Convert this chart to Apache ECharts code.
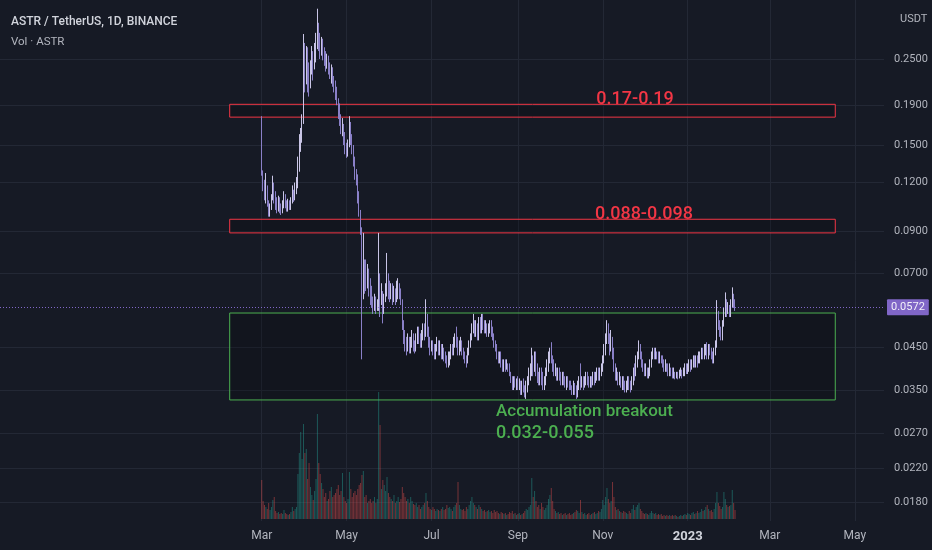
<!DOCTYPE html>
<html>
<head>
  <meta charset="utf-8">
  <title>ASTR / TetherUS, 1D, BINANCE</title>
  <script src="https://cdn.jsdelivr.net/npm/echarts@6.0.0/dist/echarts.min.js"></script>
  <style>
    html, body { margin: 0; padding: 0; background: #161a25; }
    #main { width: 932px; height: 550px; }
  </style>
</head>
<body>
<div id="main"></div>
<script type="text/javascript">
// 日线数据从 2022-03-01 开始，每天一根
const firstDay = Date.UTC(2022, 2, 1);
const firstOpen = 0.172;

const closes = [
  .128,.120,.112,.117,.106,.101,.104,.110,.116,.112,
  .106,.103,.108,.104,.101,.105,.109,.106,.103,.106,
  .104,.108,.112,.109,.114,.118,.130,.148,.160,.172,
  .248,.225,.262,.232,.215,.238,.255,.240,.262,.280,
  .300,.282,.270,.278,.262,.255,.245,.250,.238,.232,
  .236,.222,.214,.204,.196,.188,.176,.165,.170,.158,
  .148,.144,.150,.168,.158,.146,.138,.128,.122,.112,
  .101,.091,.064,.072,.070,.066,.071,.067,.062,.060,
  .058,.060,.057,.058,.068,.060,.062,.056,.060,.062,
  .066,.064,.062,.064,.061,.063,.060,.062,.065,.062,
  .059,.052,.048,.046,.045,.047,.044,.046,.048,.046,
  .045,.047,.049,.048,.046,.048,.050,.049,.054,.050,
  .046,.045,.046,.044,.043,.045,.046,.044,.045,.043,
  .044,.043,.042,.041,.042,.043,.045,.044,.046,.048,
  .047,.044,.045,.046,.044,.043,.042,.041,.044,.046,
  .048,.050,.052,.049,.051,.048,.053,.050,.054,.052,
  .050,.051,.049,.050,.052,.050,.048,.046,.045,.043,
  .042,.043,.041,.040,.041,.040,.041,.040,.039,.037,
  .036,.037,.036,.037,.036,.0365,.035,.036,.0355,.0345,
  .036,.037,.038,.039,.041,.040,.042,.040,.038,.037,
  .039,.038,.036,.037,.039,.040,.042,.044,.042,.041,
  .039,.040,.038,.039,.038,.037,.038,.037,.036,.037,
  .0365,.036,.0355,.035,.036,.035,.034,.036,.037,.036,
  .037,.036,.037,.038,.037,.036,.037,.0365,.038,.037,
  .038,.039,.038,.039,.040,.042,.044,.047,.050,.048,
  .045,.047,.044,.040,.038,.039,.037,.038,.036,.037,
  .036,.035,.036,.037,.036,.035,.037,.039,.038,.041,
  .043,.045,.043,.041,.040,.039,.040,.038,.039,.041,
  .043,.044,.043,.044,.043,.042,.043,.042,.041,.040,
  .041,.040,.039,.040,.039,.038,.039,.038,.0385,.038,
  .0385,.039,.0385,.039,.040,.039,.040,.041,.040,.041,
  .042,.041,.042,.041,.042,.043,.044,.043,.044,.045,
  .043,.045,.044,.043,.042,.044,.046,.055,.052,.050,
  .048,.052,.055,.059,.056,.058,.055,.059,.061,.058,
  .0572
];

const highs = [
  .178,.129,.122,.127,.118,.108,.106,.112,.125,.120,
  .114,.110,.111,.110,.106,.108,.114,.112,.108,.109,
  .108,.110,.118,.115,.120,.124,.140,.160,.166,.180,
  .290,.275,.270,.268,.245,.248,.270,.262,.275,.292,
  .337,.310,.292,.285,.282,.268,.262,.258,.255,.245,
  .242,.238,.226,.220,.212,.198,.192,.180,.176,.170,
  .162,.152,.155,.178,.172,.160,.150,.140,.130,.126,
  .114,.102,.092,.089,.076,.076,.074,.072,.068,.065,
  .061,.062,.061,.060,.089,.070,.066,.063,.062,.066,
  .079,.070,.067,.066,.066,.065,.064,.067,.068,.066,
  .064,.060,.053,.050,.048,.049,.048,.048,.050,.049,
  .047,.049,.051,.051,.049,.050,.052,.052,.060,.055,
  .051,.048,.047,.047,.046,.046,.048,.047,.047,.046,
  .046,.045,.044,.043,.044,.044,.046,.046,.048,.049,
  .051,.048,.047,.048,.047,.045,.044,.043,.045,.047,
  .049,.052,.055,.053,.053,.052,.054,.054,.055,.055,
  .053,.053,.052,.052,.053,.053,.051,.049,.047,.046,
  .044,.044,.044,.042,.042,.042,.042,.041,.041,.039,
  .038,.038,.038,.0375,.038,.0375,.037,.037,.0375,.036,
  .037,.038,.040,.041,.045,.043,.044,.044,.041,.039,
  .040,.040,.039,.038,.040,.042,.044,.045,.0465,.043,
  .042,.041,.040,.040,.040,.039,.039,.039,.038,.038,
  .038,.037,.037,.036,.037,.0365,.036,.037,.038,.041,
  .038,.038,.038,.039,.039,.038,.038,.038,.039,.039,
  .039,.040,.040,.040,.041,.043,.046,.049,.053,.052,
  .049,.050,.048,.045,.041,.040,.039,.039,.038,.038,
  .038,.037,.037,.038,.038,.037,.038,.040,.041,.043,
  .044,.047,.046,.044,.042,.041,.041,.040,.040,.042,
  .044,.045,.045,.045,.044,.044,.044,.043,.043,.042,
  .042,.041,.041,.041,.040,.040,.040,.039,.039,.039,
  .0395,.040,.0395,.040,.041,.041,.041,.042,.042,.042,
  .043,.043,.043,.043,.044,.044,.045,.045,.046,.046,
  .0465,.046,.046,.045,.044,.045,.047,.0597,.056,.053,
  .051,.053,.057,.0625,.060,.059,.058,.060,.0644,.062,
  .060
];

const lows = [
  .125,.114,.108,.106,.104,.098,.098,.102,.108,.106,
  .102,.100,.101,.100,.099,.100,.103,.103,.101,.101,
  .102,.102,.106,.107,.108,.112,.116,.128,.144,.152,
  .170,.205,.215,.205,.200,.210,.228,.220,.235,.245,
  .265,.262,.250,.255,.248,.240,.232,.236,.228,.222,
  .216,.212,.205,.196,.190,.175,.168,.160,.158,.150,
  .142,.139,.140,.148,.150,.142,.132,.122,.118,.106,
  .098,.088,.042,.060,.062,.063,.064,.061,.058,.057,
  .055,.056,.055,.056,.056,.054,.058,.052,.055,.059,
  .061,.060,.059,.060,.058,.059,.058,.059,.060,.060,
  .058,.050,.046,.044,.043,.044,.0435,.0435,.045,.044,
  .0435,.044,.046,.046,.045,.045,.047,.047,.048,.048,
  .045,.043,.044,.043,.042,.042,.044,.043,.043,.042,
  .042,.0415,.041,.040,.040,.0405,.042,.043,.043,.045,
  .045,.043,.043,.044,.043,.042,.041,.040,.041,.043,
  .045,.047,.049,.048,.048,.047,.047,.049,.049,.050,
  .049,.049,.048,.048,.049,.048,.047,.045,.044,.042,
  .041,.041,.040,.039,.039,.039,.0395,.039,.038,.0365,
  .035,.035,.0355,.035,.035,.035,.034,.034,.0345,.0335,
  .0332,.0345,.036,.037,.038,.038,.039,.038,.0365,.036,
  .036,.036,.035,.035,.036,.038,.039,.041,.041,.039,
  .038,.038,.037,.037,.037,.036,.036,.036,.0355,.035,
  .0355,.035,.035,.034,.034,.034,.0332,.0335,.035,.035,
  .0355,.035,.0355,.036,.036,.0355,.0355,.0355,.036,.036,
  .0365,.037,.037,.037,.038,.039,.041,.043,.046,.046,
  .043,.044,.042,.039,.037,.037,.036,.036,.0355,.035,
  .035,.0345,.0345,.035,.035,.0345,.035,.036,.037,.038,
  .040,.042,.042,.040,.039,.038,.038,.0375,.0375,.038,
  .040,.042,.042,.042,.042,.041,.041,.041,.040,.039,
  .039,.039,.038,.038,.038,.0375,.0375,.0373,.0375,.0373,
  .0375,.038,.0375,.038,.038,.0385,.0385,.039,.039,.0395,
  .040,.040,.040,.040,.041,.041,.042,.042,.042,.043,
  .042,.042,.043,.042,.041,.041,.043,.045,.050,.048,
  .047,.047,.051,.054,.054,.055,.054,.054,.057,.057,
  .056
];

// 成交量（百万 ASTR，估读）
const volumes = [
  39,18,14,12,10,16,9,12,19,22,
  8,6,7,5,6,5,9,6,5,4,
  5,7,12,8,10,12,45,66,87,60,
  95,66,70,40,56,32,24,19,28,40,
  105,56,45,36,30,22,26,18,20,28,
  32,22,24,26,30,34,24,28,46,22,
  18,16,20,47,30,22,26,28,24,30,
  34,36,44,48,22,24,16,18,20,16,
  18,22,16,20,127,94,30,39,34,28,
  42,26,22,20,18,24,16,18,22,17,
  20,32,26,22,18,20,16,22,18,15,
  14,16,12,14,10,12,14,16,26,18,
  12,10,9,12,10,8,10,9,8,10,
  12,9,10,14,11,12,10,8,12,14,
  16,37,14,10,9,10,8,12,10,14,
  18,22,16,14,12,10,14,12,10,8,
  9,7,8,9,7,8,6,9,7,8,
  6,5,7,6,5,6,4,5,7,6,
  8,5,6,4,5,6,4,5,6,8,
  10,9,12,14,41,22,28,18,12,14,
  10,16,12,9,11,14,20,24,31,18,
  10,8,6,7,5,6,4,5,6,4,
  5,6,4,5,6,7,9,8,6,19,
  7,5,6,4,5,6,4,5,6,7,
  5,6,8,7,10,19,14,22,31,20,
  16,18,37,22,12,9,10,8,7,6,
  8,7,6,5,8,6,10,14,9,12,
  14,16,10,8,6,5,6,5,4,6,
  8,6,5,6,4,5,4,5,3,4,
  3,4,3,4,3,4,3,4,3,2,
  3,4,3,4,5,4,6,5,4,6,
  7,5,6,8,6,7,10,8,9,12,
  14,10,8,9,7,10,16,27,16,13,
  10,12,27,20,14,12,13,14,29,16,
  9
];

const lastPrice = 0.0572;

// 坐标轴刻度
const priceTicks = [0.018, 0.022, 0.027, 0.035, 0.045, 0.07, 0.09, 0.12, 0.15, 0.19, 0.25];
const dateTicks = ['2022-03-01', '2022-05-01', '2022-07-01', '2022-09-01', '2022-11-01', '2023-01-01', '2023-03-01', '2023-05-01'];
const monthNames = ['Jan', 'Feb', 'Mar', 'Apr', 'May', 'Jun', 'Jul', 'Aug', 'Sep', 'Oct', 'Nov', 'Dec'];

// 画的区间框和文字
const zoneStart = '2022-02-06';
const zoneEnd = '2023-04-17';
const zones = [
  {top: 0.191, bottom: 0.177, color: '#f23645'},
  {top: 0.0965, bottom: 0.089, color: '#f23645'},
  {top: 0.0553, bottom: 0.0330, color: '#4caf50'}
];
const notes = [
  {text: '0.17-0.19', date: '2022-10-27', price: 0.197, color: '#f23645', size: 18},
  {text: '0.088-0.098', date: '2022-10-26', price: 0.0990, color: '#f23645', size: 18},
  {text: 'Accumulation breakout', date: '2022-08-16', price: 0.0307, color: '#4caf50', size: 17},
  {text: '0.032-0.055', date: '2022-08-16', price: 0.0271, color: '#4caf50', size: 18}
];

(function() {
  const font = "Roboto, 'Liberation Sans', sans-serif";
  const upColor = '#c9c5e6';
  const downColor = '#8a80c8';
  const gridColor = '#232835';
  const textColor = '#b2b5be';
  const day = 86400000;
  const ts = s => new Date(s + 'T00:00:00Z').getTime();

  const candles = closes.map((c, i) => {
    const open = i === 0 ? firstOpen : closes[i - 1];
    return [firstDay + i * day, open, c, lows[i], highs[i]];
  });
  const volBars = volumes.map((v, i) => ({
    value: [firstDay + i * day, v],
    itemStyle: {color: candles[i][2] >= candles[i][1] ? 'rgba(38,166,154,0.45)' : 'rgba(239,83,80,0.45)'}
  }));

  const xMin = ts('2021-08-25');
  const xMax = ts('2023-05-22');
  const xTickValues = dateTicks.map(ts);

  var option = {
    backgroundColor: '#161a25',
    animation: false,
    textStyle: {fontFamily: font},
    title: [
      {text: 'ASTR / TetherUS, 1D, BINANCE', left: 6, top: 11,
        textStyle: {color: '#d1d4dc', fontSize: 12, fontWeight: 500, fontFamily: font}},
      {text: 'Vol · ASTR', left: 6, top: 31,
        textStyle: {color: textColor, fontSize: 11.5, fontWeight: 'normal', fontFamily: font}},
      {text: 'USDT', left: 895, top: 9,
        textStyle: {color: textColor, fontSize: 11, fontWeight: 'normal', fontFamily: font}}
    ],
    grid: [
      {left: 0, right: 48, top: 0, bottom: 29},
      {left: 0, right: 48, top: 369, bottom: 31}
    ],
    xAxis: [
      {
        // 时间戳当数值轴用，刻度放在每两个月的月初
        type: 'value', gridIndex: 0, min: xMin, max: xMax,
        axisLine: {show: false},
        axisTick: {show: false, customValues: xTickValues},
        splitLine: {show: true, lineStyle: {color: gridColor, width: 1}},
        axisLabel: {
          customValues: xTickValues,
          margin: 9,
          color: textColor,
          fontSize: 12,
          fontFamily: font,
          formatter: v => {
            const d = new Date(v);
            return d.getUTCMonth() === 0 ? '{y|' + d.getUTCFullYear() + '}' : monthNames[d.getUTCMonth()];
          },
          rich: {y: {color: '#d1d4dc', fontSize: 13, fontWeight: 'bold', fontFamily: font}}
        }
      },
      {
        type: 'value', gridIndex: 1, min: xMin, max: xMax, show: false,
        splitLine: {show: false}
      }
    ],
    yAxis: [
      {
        type: 'log', gridIndex: 0, position: 'right', logBase: 10,
        min: 0.01608, max: 0.3549,
        axisLine: {show: false},
        axisTick: {show: false, customValues: priceTicks},
        splitLine: {show: true, lineStyle: {color: gridColor, width: 1}},
        axisLabel: {
          customValues: priceTicks,
          margin: 10,
          color: textColor,
          fontSize: 11,
          fontFamily: font,
          formatter: v => v.toFixed(4)
        }
      },
      {
        type: 'value', gridIndex: 1, min: 0, max: 150, show: false,
        splitLine: {show: false}
      }
    ],
    series: [
      {
        name: 'Vol',
        type: 'bar',
        xAxisIndex: 1, yAxisIndex: 1,
        barWidth: 1,
        data: volBars,
        z: 1
      },
      {
        name: 'ASTR',
        type: 'candlestick',
        xAxisIndex: 0, yAxisIndex: 0,
        barWidth: 1,
        data: candles,
        itemStyle: {color: upColor, color0: downColor, borderColor: upColor, borderColor0: downColor, borderWidth: 1},
        markLine: {
          silent: true,
          symbol: 'none',
          precision: 4,
          data: [{yAxis: lastPrice}],
          lineStyle: {color: '#8c6fd9', type: [1, 2], width: 1, opacity: 0.9},
          label: {
            position: 'end', distance: 3,
            formatter: lastPrice.toFixed(4),
            color: '#ffffff', backgroundColor: '#8c6fd9',
            padding: [3, 4, 2, 4], fontSize: 11, fontFamily: font, borderRadius: 1
          }
        },
        z: 2
      },
      {
        name: 'drawings',
        type: 'line',
        xAxisIndex: 0, yAxisIndex: 0,
        data: [],
        z: 5,
        markArea: {
          silent: true,
          data: zones.map(z => [
            {xAxis: ts(zoneStart), yAxis: z.top,
              itemStyle: {color: 'rgba(0,0,0,0.18)', borderColor: z.color, borderWidth: 1}},
            {xAxis: ts(zoneEnd), yAxis: z.bottom}
          ])
        },
        markPoint: {
          silent: true,
          symbol: 'rect',
          symbolSize: 1,
          itemStyle: {color: 'rgba(0,0,0,0)'},
          data: notes.map(n => ({
            coord: [ts(n.date), n.price],
            label: {
              show: true, position: 'right', distance: 0,
              formatter: n.text, color: n.color,
              fontSize: n.size, fontWeight: 500, fontFamily: font
            }
          }))
        }
      }
    ]
  };

  echarts.init(document.getElementById('main')).setOption(option);
})();
</script>
</body>
</html>
